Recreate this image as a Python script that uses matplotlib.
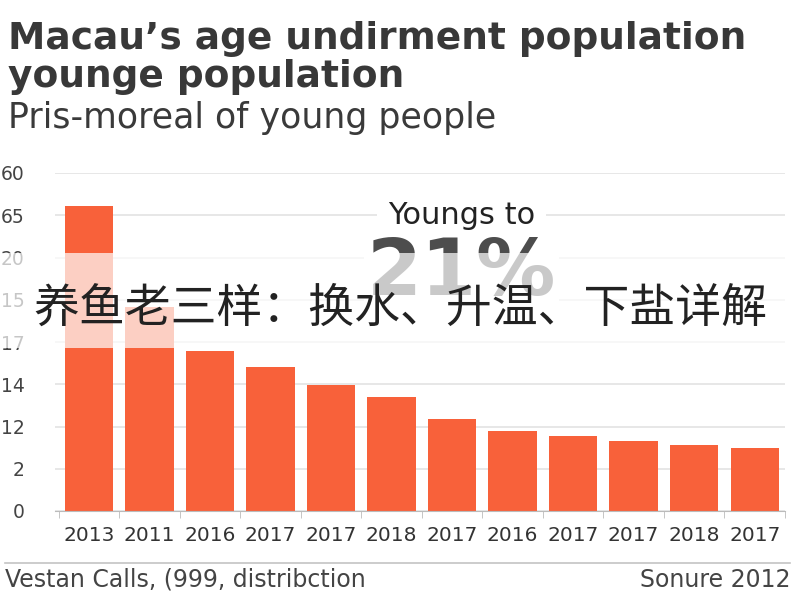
import numpy as np
import matplotlib
matplotlib.use("Agg")
import matplotlib.pyplot as plt
from matplotlib.patches import Rectangle

# data (bar heights in tick-slot units)
years = ["2013", "2011", "2016", "2017", "2017", "2018",
         "2017", "2016", "2017", "2017", "2018", "2017"]
values = [7.22, 4.83, 3.79, 3.41, 2.98, 2.70, 2.18, 1.89, 1.78, 1.66, 1.56, 1.49]
ytick_labels = ["0", "2", "12", "14", "17", "15", "20", "65", "60"]

title = "Macau’s age undirment population\nyounge population"
subtitle = "Pris-moreal of young people"
overlay = "养鱼老三样：换水、升温、下盐详解"
footer_left = "Vestan Calls, (999, distribction"
footer_right = "Sonure 2012"

BAR = "#f8613a"
DARK = "#333333"

plt.rcParams["font.family"] = ["DejaVu Sans"]

fig = plt.figure(figsize=(8, 6), dpi=100)
fig.patch.set_facecolor("white")

ax = fig.add_axes([55 / 800, 89 / 600, 730 / 800, 338 / 600])
x = np.arange(len(values))
ax.bar(x, values, width=0.8, color=BAR, zorder=2)

ax.set_xlim(-0.56, 11.46)
ax.set_ylim(0, 8)
ax.set_yticks(range(len(ytick_labels)))
ax.set_yticklabels(ytick_labels, fontsize=13.5, color="#444444")
ax.set_xticks(x)
ax.set_xticklabels(years, fontsize=14.5, color=DARK)
ax.set_xticks(np.arange(-0.5, 12, 1), minor=True)
ax.tick_params(axis="y", length=0, pad=22)
ax.tick_params(axis="x", which="major", length=0, pad=11)
ax.tick_params(axis="x", which="minor", length=5, color="#bbbbbb")
ax.grid(axis="y", color="#e3e3e3", linewidth=1.2, zorder=0)
for s in ["top", "right", "left"]:
    ax.spines[s].set_visible(False)
ax.spines["bottom"].set_color("#bbbbbb")

# annotation box in the middle of the plot
ax.text(0.557, 0.875, "Youngs to", transform=ax.transAxes, ha="center", va="center",
        fontsize=22, color="#222222", zorder=3,
        bbox=dict(facecolor="white", edgecolor="none", pad=8))
ax.text(0.557, 0.705, "21%", transform=ax.transAxes, ha="center", va="center",
        fontsize=57, fontweight="bold", color="#4d4d4d", zorder=3,
        bbox=dict(facecolor="white", edgecolor="none", pad=2))

# titles
fig.text(8 / 800, 1 - 21 / 600, title, ha="left", va="top", fontsize=27,
         fontweight="bold", color="#383838", linespacing=1.08)
fig.text(8 / 800, 1 - 101 / 600, subtitle, ha="left", va="top", fontsize=25,
         color="#3a3a3a")

# footer
fig.add_artist(plt.Line2D([5 / 800, 790 / 800], [1 - 563 / 600, 1 - 563 / 600],
                          color="#c4c4c4", linewidth=1.2))
fig.text(5 / 800, 1 - 580 / 600, footer_left, ha="left", va="center",
         fontsize=17, color="#444444")
fig.text(790 / 800, 1 - 580 / 600, footer_right, ha="right", va="center",
         fontsize=17, color="#444444")

# washed-out band with the overlay caption
fig.add_artist(Rectangle((0, 1 - 348 / 600), 1, 95 / 600, transform=fig.transFigure,
                         facecolor="white", alpha=0.7, edgecolor="none", zorder=5))
fig.text(0.5, 1 - 308 / 600, overlay, ha="center", va="center", fontsize=33,
         color="#222222", family=["Noto Sans CJK SC", "DejaVu Sans"], zorder=6)

fig.savefig("out.png", dpi=100)
